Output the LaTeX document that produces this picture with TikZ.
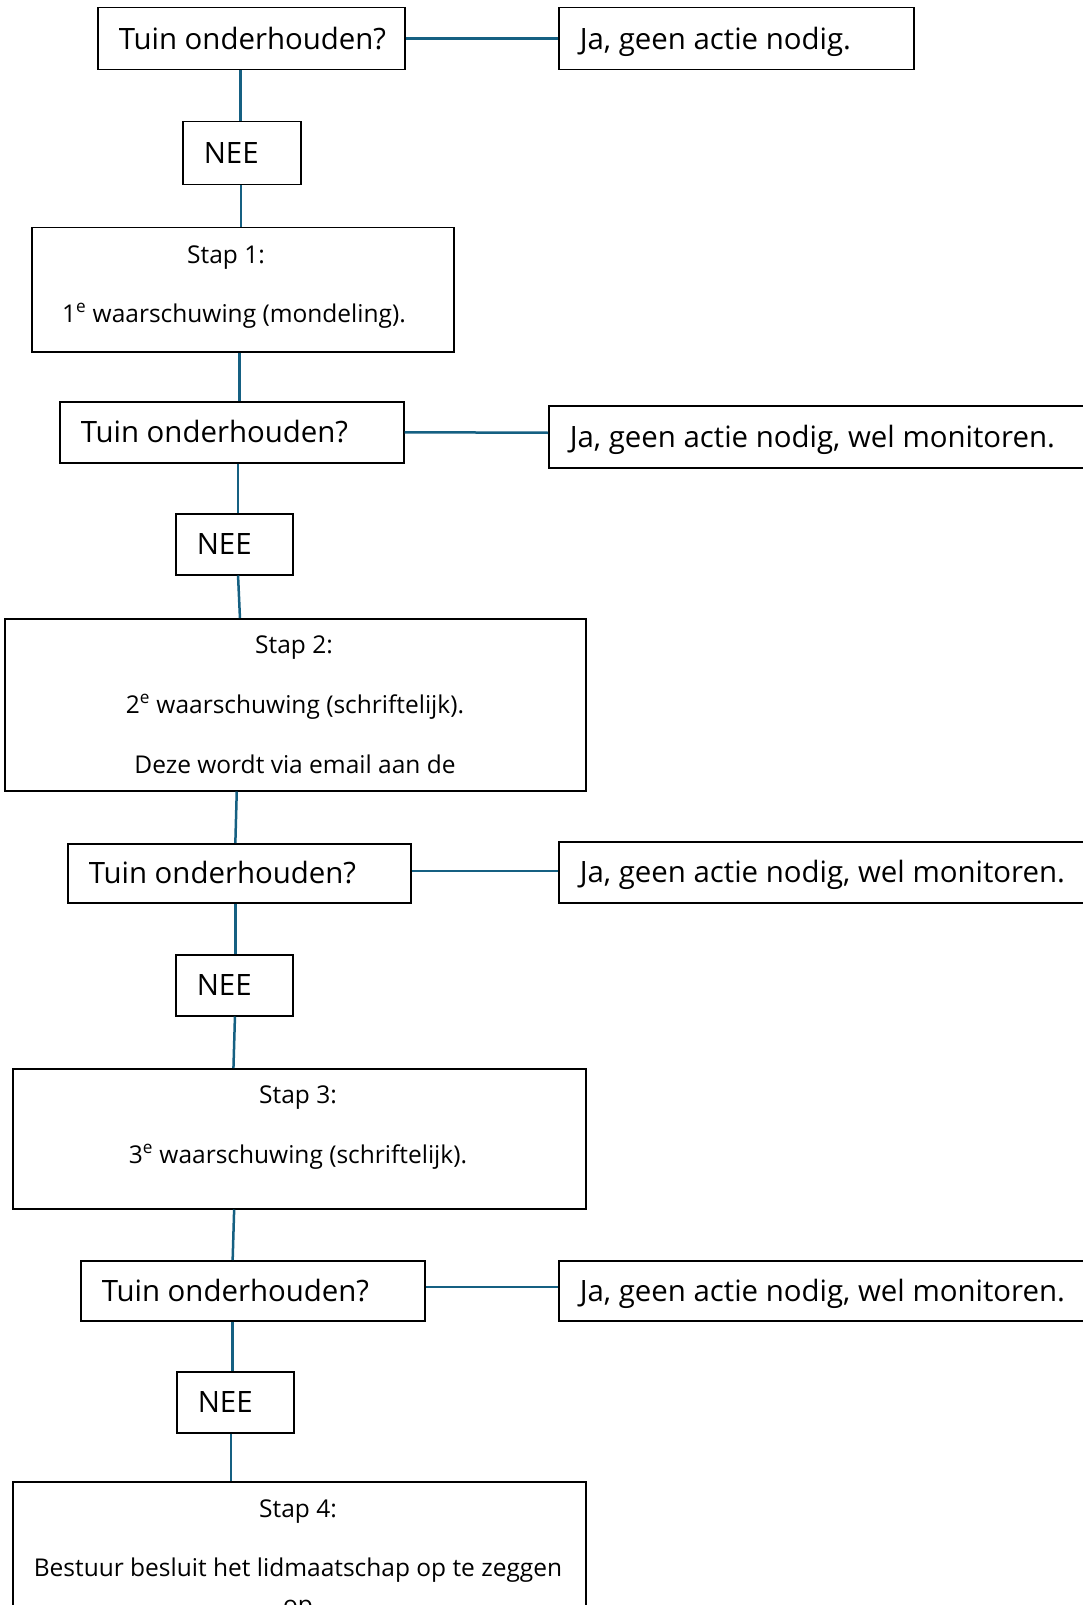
\documentclass[tikz,border=0pt]{standalone}
\usepackage{fontspec}
\setmainfont{Open Sans}
\usepackage{xcolor}
\usepackage{tikz}

\definecolor{linkblue}{RGB}{21,96,130}
\newcommand{\bigtext}{\fontsize{29.4pt}{35pt}\selectfont}
\newcommand{\smalltext}{\fontsize{24.5pt}{30pt}\selectfont}

\tikzset{
  qbox/.style={draw=black, line width=1.5pt, anchor=north west, inner xsep=21pt, inner ysep=0pt, text height=21pt, text depth=0pt, font=\bigtext},
  sbox/.style={draw=black, line width=1.5pt, anchor=north west, inner sep=0pt},
  stext/.style={anchor=base, inner sep=0pt, font=\smalltext},
  link/.style={draw=linkblue, line width=2.5pt},
}

\begin{document}
\begin{tikzpicture}[x=1pt,y=1pt,yscale=-1,xscale=1]
\useasboundingbox (0,0) rectangle (1083,1605);

%Shape: Question boxes
\node[qbox, minimum height=62pt] (t1) at (97,7) {\makebox[265pt][l]{Tuin onderhouden?}};
\node[qbox, minimum height=61pt] (t2) at (59,401) {\makebox[302pt][l]{Tuin onderhouden?}};
\node[qbox, minimum height=59pt] (t3) at (67,843) {\makebox[301pt][l]{Tuin onderhouden?}};
\node[qbox, minimum height=60pt] (t4) at (80,1260) {\makebox[302pt][l]{Tuin onderhouden?}};
%Shape: Answer boxes
\node[qbox, minimum height=62pt] (j1) at (558,7) {\makebox[313pt][l]{Ja, geen actie nodig.}};
\node[qbox, minimum height=62pt] (j2) at (548,405) {\makebox[518pt][l]{Ja, geen actie nodig, wel monitoren.}};
\node[qbox, minimum height=61pt] (j3) at (558,841) {\makebox[508pt][l]{Ja, geen actie nodig, wel monitoren.}};
\node[qbox, minimum height=60pt] (j4) at (558,1260) {\makebox[508pt][l]{Ja, geen actie nodig, wel monitoren.}};
%Shape: NEE boxes
\node[qbox, minimum height=63pt] (n1) at (182,121) {\makebox[76pt][l]{NEE}};
\node[qbox, minimum height=61pt] (n2) at (175,513) {\makebox[75pt][l]{NEE}};
\node[qbox, minimum height=61pt] (n3) at (175,954) {\makebox[75pt][l]{NEE}};
\node[qbox, minimum height=61pt] (n4) at (176,1371) {\makebox[75pt][l]{NEE}};
%Shape: Step boxes
\node[sbox, minimum width=422pt, minimum height=124pt] (s1) at (31,227) {};
\node[sbox, minimum width=581pt, minimum height=172pt] (s2) at (4,618) {};
\node[sbox, minimum width=573pt, minimum height=140pt] (s3) at (12,1068) {};
\node[sbox, minimum width=573pt, minimum height=200pt] (s4) at (12,1481) {};

%Straight Lines: down the chain
\draw[link] ([xshift=-11pt]t1.south) -- ([xshift=-1.5pt]n1.north);
\draw[link] ([xshift=-1pt]n1.south) -- ([xshift=-2pt]s1.north);
\draw[link] ([xshift=-3.5pt]s1.south) -- ([xshift=7.5pt]t2.north);
\draw[link] ([xshift=6.3pt]t2.south) -- ([xshift=3.8pt]n2.north);
\draw[link] ([xshift=3.8pt]n2.south) -- ([xshift=-55.3pt]s2.north);
\draw[link] ([xshift=-58.5pt]s2.south) -- ([xshift=-3.9pt]t3.north);
\draw[link] ([xshift=-3.9pt]t3.south) -- ([xshift=1.1pt]n3.north);
\draw[link] ([xshift=0.7pt]n3.south) -- ([xshift=-65.8pt]s3.north);
\draw[link] ([xshift=-65.1pt]s3.south) -- ([xshift=-20.1pt]t4.north);
\draw[link] ([xshift=-20.5pt]t4.south) -- ([xshift=-3pt]n4.north);
\draw[link] ([xshift=-4.1pt]n4.south) -- ([xshift=-68.1pt]s4.north);
%Straight Lines: to the answers (y points down here)
\draw[link] (t1.east) -- (j1.west);
\draw[link] (t2.east) -- ([yshift=-4pt]j2.west);
\draw[link] ([yshift=-2.5pt]t3.east) -- ([yshift=-1.5pt]j3.west);
\draw[link] ([yshift=-4pt]t4.east) -- ([yshift=-4pt]j4.west);

% Text Node
\node[stext] (s1a) at (226,263) {Stap 1:};
\node[stext] (s1b) at (234,322) {1\textsuperscript{e} waarschuwing (mondeling).};
% Text Node
\node[stext] (s2a) at (294,653) {Stap 2:};
\node[stext] (s2b) at (295,713) {2\textsuperscript{e} waarschuwing (schriftelijk).};
\node[stext] (s2c) at (295,773) {Deze wordt via email aan de};
% Text Node
\node[stext] (s3a) at (298,1103) {Stap 3:};
\node[stext] (s3b) at (298,1163) {3\textsuperscript{e} waarschuwing (schriftelijk).};
% Text Node
\node[stext] (s4a) at (298,1517) {Stap 4:};
\node[stext] (s4b) at (298,1576) {Bestuur besluit het lidmaatschap op te zeggen};
\node[stext] (s4c) at (298,1613) {op};

\end{tikzpicture}
\end{document}
